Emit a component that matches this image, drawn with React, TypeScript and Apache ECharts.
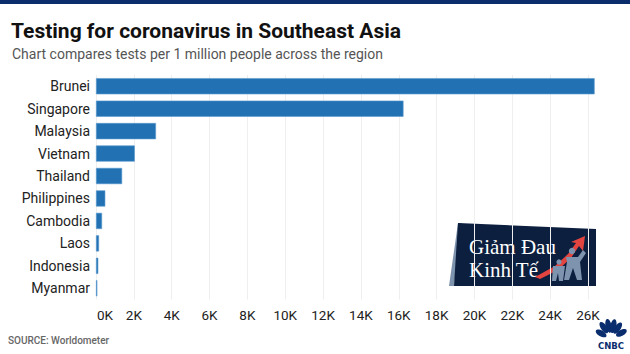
import React, { useEffect, useRef } from "react";
import * as echarts from "echarts";

const categories = ["Brunei", "Singapore", "Malaysia", "Vietnam", "Thailand", "Philippines", "Cambodia", "Laos", "Indonesia", "Myanmar"];
const testsPerMillion = [26350, 16250, 3170, 2050, 1380, 490, 320, 160, 120, 70];
const titleText = "Testing for coronavirus in Southeast Asia";
const subtitleText = "Chart compares tests per 1 million people across the region";
const sourceText = "SOURCE: Worldometer";

const FONT = "Roboto, 'Open Sans', sans-serif";

export default function App() {
  const ref = useRef<HTMLDivElement>(null);
  useEffect(() => {
    if (!ref.current) return;
    const chart = echarts.init(ref.current, undefined, { renderer: "svg" });
    const navy = "#0d1f3f";
    const slate = "#7e93ad";
    const serif = "'Liberation Serif', 'DejaVu Serif', serif";
    const option: any = {
      animation: false,
      backgroundColor: "#ffffff",
      textStyle: { fontFamily: FONT },
      title: [
        {
          text: titleText,
          left: 11,
          top: 20,
          padding: 0,
          textStyle: { fontSize: 21, fontWeight: "bold", color: "#111", fontFamily: FONT },
        },
        {
          text: subtitleText,
          left: 12,
          top: 47,
          padding: 0,
          textStyle: { fontSize: 14, fontWeight: "normal", color: "#555", fontFamily: FONT },
        },
        {
          text: sourceText,
          left: 8,
          top: 335,
          padding: 0,
          textStyle: { fontSize: 10, fontWeight: 500, color: "#666", fontFamily: FONT },
        },
      ],
      grid: { left: 96, right: 42, top: 75, bottom: 54.5, containLabel: false },
      xAxis: {
        type: "value",
        min: 0,
        max: 26000,
        interval: 2000,
        axisLine: { show: false },
        axisTick: { show: false },
        splitLine: { show: true, lineStyle: { color: "#efefef", width: 1 } },
        axisLabel: {
          margin: 8,
          fontSize: 13.5,
          color: "#222",
          fontFamily: FONT,
          formatter: (v: number) => (v === 0 ? "{z|0K}" : v / 1000 + "K"),
          rich: { z: { fontSize: 13.5, color: "#222", fontFamily: FONT, padding: [0, 0, 0, 18] } },
        },
      },
      yAxis: {
        type: "category",
        data: categories,
        inverse: true,
        axisLine: { show: false },
        axisTick: { show: false },
        axisLabel: { margin: 6, fontSize: 14, color: "#222", fontFamily: FONT },
      },
      series: [
        {
          type: "bar",
          data: testsPerMillion,
          barCategoryGap: "28%",
          clip: false,
          itemStyle: { color: "#2272b3", borderColor: "#5b9bd0", borderWidth: 0.6 },
        },
      ],
      graphic: [
        { type: "rect", left: 0, top: 0, shape: { width: 630, height: 4 }, style: { fill: "#0b2d6b" } },
        {
          type: "group",
          children: [
            { type: "polygon", shape: { points: [[449, 286], [458, 223], [462, 223], [454, 286]] }, style: { fill: slate } },
            { type: "polygon", shape: { points: [[454, 286], [458, 223], [596, 229], [596, 286]] }, style: { fill: navy } },
            { type: "text", style: { text: "Giảm Đau", x: 469, y: 257, fill: "#fff", font: "21px " + serif, textVerticalAlign: "bottom" } },
            { type: "text", style: { text: "Kinh Tế", x: 469, y: 280, fill: "#fff", font: "21px " + serif, textVerticalAlign: "bottom" } },
            { type: "polygon", shape: { points: [[535, 277], [555, 266], [568, 254], [576, 243], [571, 242], [585, 236], [583, 251], [579, 246], [571, 258], [558, 270], [540, 279]] }, style: { fill: "#e2453f" } },
            { type: "circle", shape: { cx: 572, cy: 251, r: 3.2 }, style: { fill: slate } },
            { type: "polygon", shape: { points: [[566, 257], [578, 257], [583, 250], [586, 253], [580, 262], [582, 280], [577, 280], [573, 268], [569, 280], [564, 280], [567, 262]] }, style: { fill: slate } },
            { type: "circle", shape: { cx: 559, cy: 262, r: 2.6 }, style: { fill: slate } },
            { type: "polygon", shape: { points: [[553, 266], [565, 266], [563, 281], [559, 281], [558, 273], [556, 281], [552, 281]] }, style: { fill: slate } },
          ],
        },
        {
          type: "group",
          children: [
            { type: "ellipse", shape: { cx: 601, cy: 333, rx: 3, ry: 6 }, rotation: 1.05, originX: 601, originY: 333, style: { fill: "#0a2d6e" } },
            { type: "ellipse", shape: { cx: 604, cy: 328, rx: 3, ry: 6.5 }, rotation: 0.6, originX: 604, originY: 328, style: { fill: "#0a2d6e" } },
            { type: "ellipse", shape: { cx: 608.5, cy: 326, rx: 3, ry: 7 }, rotation: 0.2, originX: 608.5, originY: 326, style: { fill: "#0a2d6e" } },
            { type: "ellipse", shape: { cx: 613.5, cy: 326, rx: 3, ry: 7 }, rotation: -0.2, originX: 613.5, originY: 326, style: { fill: "#0a2d6e" } },
            { type: "ellipse", shape: { cx: 618, cy: 328, rx: 3, ry: 6.5 }, rotation: -0.6, originX: 618, originY: 328, style: { fill: "#0a2d6e" } },
            { type: "ellipse", shape: { cx: 621, cy: 333, rx: 3, ry: 6 }, rotation: -1.05, originX: 621, originY: 333, style: { fill: "#0a2d6e" } },
            { type: "text", style: { text: "CNBC", x: 611, y: 346, fill: "#0a2d6e", font: "bold 8.5px 'DejaVu Sans', sans-serif", textAlign: "center", textVerticalAlign: "middle" } },
          ],
        },
      ],
    };
    chart.setOption(option);
    return () => chart.dispose();
  }, []);
  return <div ref={ref} style={{ position: "fixed", left: 0, top: 0, width: 630, height: 354 }} />;
}
